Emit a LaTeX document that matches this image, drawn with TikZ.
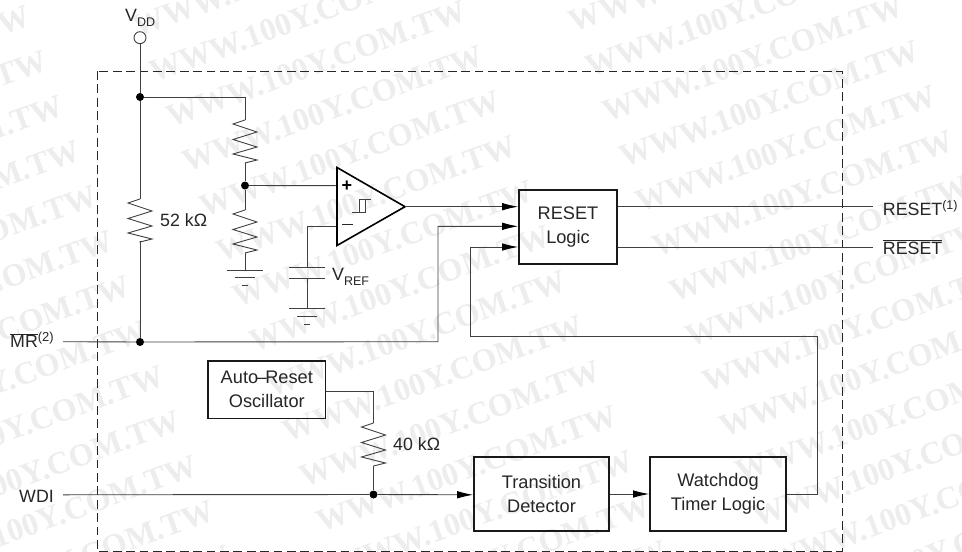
\documentclass[tikz,border=0pt]{standalone}
\usepackage{fontspec}
\setmainfont{Liberation Sans}
\newfontfamily\wmfont{Liberation Serif}[BoldFont={Liberation Serif Bold}]
\usetikzlibrary{arrows.meta}
\definecolor{wire}{gray}{0.25}
\newcommand{\zigres}[2]{\draw[wire line] (#1) -- ++(-12,4) -- ++(24,8) -- ++(-24,7.5) -- ++(24,7.5) -- ++(-24,7) -- ++(24,6) -- ++(-12,3) -- (#2);}
\tikzset{
  wire line/.style={draw=wire,line width=0.9pt,line join=miter},
  block/.style={draw=black!90,line width=1.6pt,inner sep=0pt,align=center,font=\fontsize{18.2}{24}\selectfont,text=black!85},
  lbl/.style={inner sep=0pt,anchor=base west,font=\fontsize{17.8}{20}\selectfont,text=black!85},
  jdot/.style={circle,fill=black,inner sep=0pt,minimum size=8pt},
  flow/.style={wire line,-{Latex[length=16pt,width=7.5pt,black]}},
  gbar/.style={wire line},
  wm/.style={rotate=20,anchor=base west,inner sep=0pt,text=black!7,font=\fontsize{32}{32}\wmfont\bfseries}
}
\begin{document}
\begin{tikzpicture}[x=1pt,y=-1pt]
\useasboundingbox (0,0) rectangle (962,552);
\fill[white] (0,0) rectangle (962,552);
% watermark
\foreach \i in {-2,-1,0,1}{
 \foreach \j in {-6,...,12}{
  \pgfmathsetmacro{\wx}{623.9+436.3*\i+16.7*\j}
  \pgfmathsetmacro{\wy}{168-5*\i+45*\j}
  \pgfmathtruncatemacro{\wshow}{(\wx<962)&&(\wx>-290)&&(\wy>-5)&&(\wy<675)?1:0}
  \ifnum\wshow=1
   \node[wm] (wm\i j\j) at (\wx,\wy) {WWW.100Y.COM.TW};
  \fi
 }
}
% frame
\draw[dash pattern=on 8.8pt off 4.6pt,draw=black!85,line width=0.9pt] (97,71) rectangle (842,551);
% named points
\node[draw=wire,line width=0.9pt,circle,inner sep=0pt,minimum size=12pt] (vdd) at (140,37.7) {};
\node[jdot] (j1) at (140,97) {};
\node[jdot] (j2) at (245,185.5) {};
\node[jdot] (j3) at (140,342) {};
\node[jdot] (j4) at (373.5,494.5) {};
\coordinate (r1a) at (245,120); \coordinate (r1b) at (245,163);
\coordinate (r2a) at (245,210); \coordinate (r2b) at (245,253);
\coordinate (r3a) at (140,199); \coordinate (r3b) at (140,241);
\coordinate (r4a) at (373.5,423); \coordinate (r4b) at (373.5,466);
\coordinate (tip) at (405,206.7);
\coordinate (plus) at (337,185.7);
\coordinate (minus) at (337,226.3);
\coordinate (g1) at (245,270.7);
\coordinate (c1) at (307,267);
\coordinate (c2) at (307,278);
\coordinate (g2) at (307,308.7);
\coordinate (mrin) at (63,341.7);
\coordinate (wdin) at (63,494.8);
\coordinate (rout1) at (873,206.7);
\coordinate (rout2) at (873,247.5);
% blocks
\node[block,minimum width=98pt,minimum height=74pt] (logic) at (568,227) {RESET\\Logic};
\node[block,minimum width=117.7pt,minimum height=57.7pt] (osc) at (266.8,389.8) {Auto\kern-1.5pt--\kern-1.5pt Reset\\Oscillator};
\node[block,minimum width=135pt,minimum height=74pt] (trans) at (541.5,494) {Transition\\Detector};
\node[block,minimum width=136pt,minimum height=74pt] (wdog) at (718,494) {Watchdog\\Timer Logic};
% wires
\draw[wire line] (vdd) -- (j1) -- (r3a);
\zigres{r3a}{r3b}
\draw[wire line] (r3b) -- (j3);
\draw[wire line] (j1) -| (r1a);
\zigres{r1a}{r1b}
\draw[wire line] (r1b) -- (j2) -- (r2a);
\zigres{r2a}{r2b}
\draw[wire line] (r2b) -- (g1);
\draw[wire line] (j2) -- (plus);
\draw[gbar] (227,270.7) -- (263,270.7) (235,277.5) -- (255,277.5) (242,285) -- (248,285);
\draw[wire line] (minus) -| (c1);
\draw[gbar] (289,267) -- (325,267) (289,278) -- (325,278);
\draw[wire line] (c2) -- (g2);
\draw[gbar] (289,308.7) -- (325,308.7) (297,316.2) -- (317,316.2) (304,324) -- (310,324);
% comparator
\draw[draw=black,line width=1.6pt,line join=miter] (337,167.5) -- (tip) -- (337,245.5) -- cycle;
\draw[wire line,line width=0.8pt] (352,212) -- (365,212) -- (365,199) -- (371,199) (359.3,212) -- (359.3,199) -- (365,199);
\node[inner sep=0pt,font=\fontsize{18}{18}\selectfont\bfseries] (pl) at (347,186) {+};
\draw[line width=1pt,draw=black!85] (342,224) -- (353,224);
\draw[flow] (tip) -- (logic.west |- tip);
\draw[flow] (mrin) -- (j3) -- (438,341.7) -- (438,226.3) -- (logic.west |- 438,226.3);
\draw[flow] (wdog.east) -- (817,494) -- (817,336.7) -- (470,336.7) -- (470,247) -- (logic.west |- 470,247);
\draw[wire line] (logic.east |- rout1) -- (rout1);
\draw[wire line] (logic.east |- rout2) -- (rout2);
\draw[wire line] (osc.east |- 0,391) -- (373.5,391) -- (r4a);
\zigres{r4a}{r4b}
\draw[wire line] (r4b) -- (j4);
\draw[flow] (wdin) -- (j4) -- (trans.west |- wdin);
\draw[flow] (trans.east) -- (wdog.west);
% labels
\node[lbl] (lvdd) at (125,21.7) {V\raisebox{-5pt}{\fontsize{12.5}{12}\selectfont DD}};
\node[lbl] (l52) at (160,226.7) {52 kΩ};
\node[lbl] (lvref) at (332,280) {V\raisebox{-5pt}{\fontsize{12.5}{12}\selectfont REF}};
\node[lbl] (lmr) at (10,347.7) {$\overline{\hbox{MR}}$\raisebox{6pt}{\fontsize{13}{13}\selectfont (2)}};
\node[lbl] (lwdi) at (19,502) {WDI};
\node[lbl] (l40) at (393,450.7) {40 kΩ};
\node[lbl] (lr1) at (882.7,215) {RESET\raisebox{6pt}{\fontsize{12.5}{13}\selectfont (1)}};
\node[lbl] (lr2) at (882.7,254) {$\overline{\hbox{RESET}}$};
\end{tikzpicture}
\end{document}
